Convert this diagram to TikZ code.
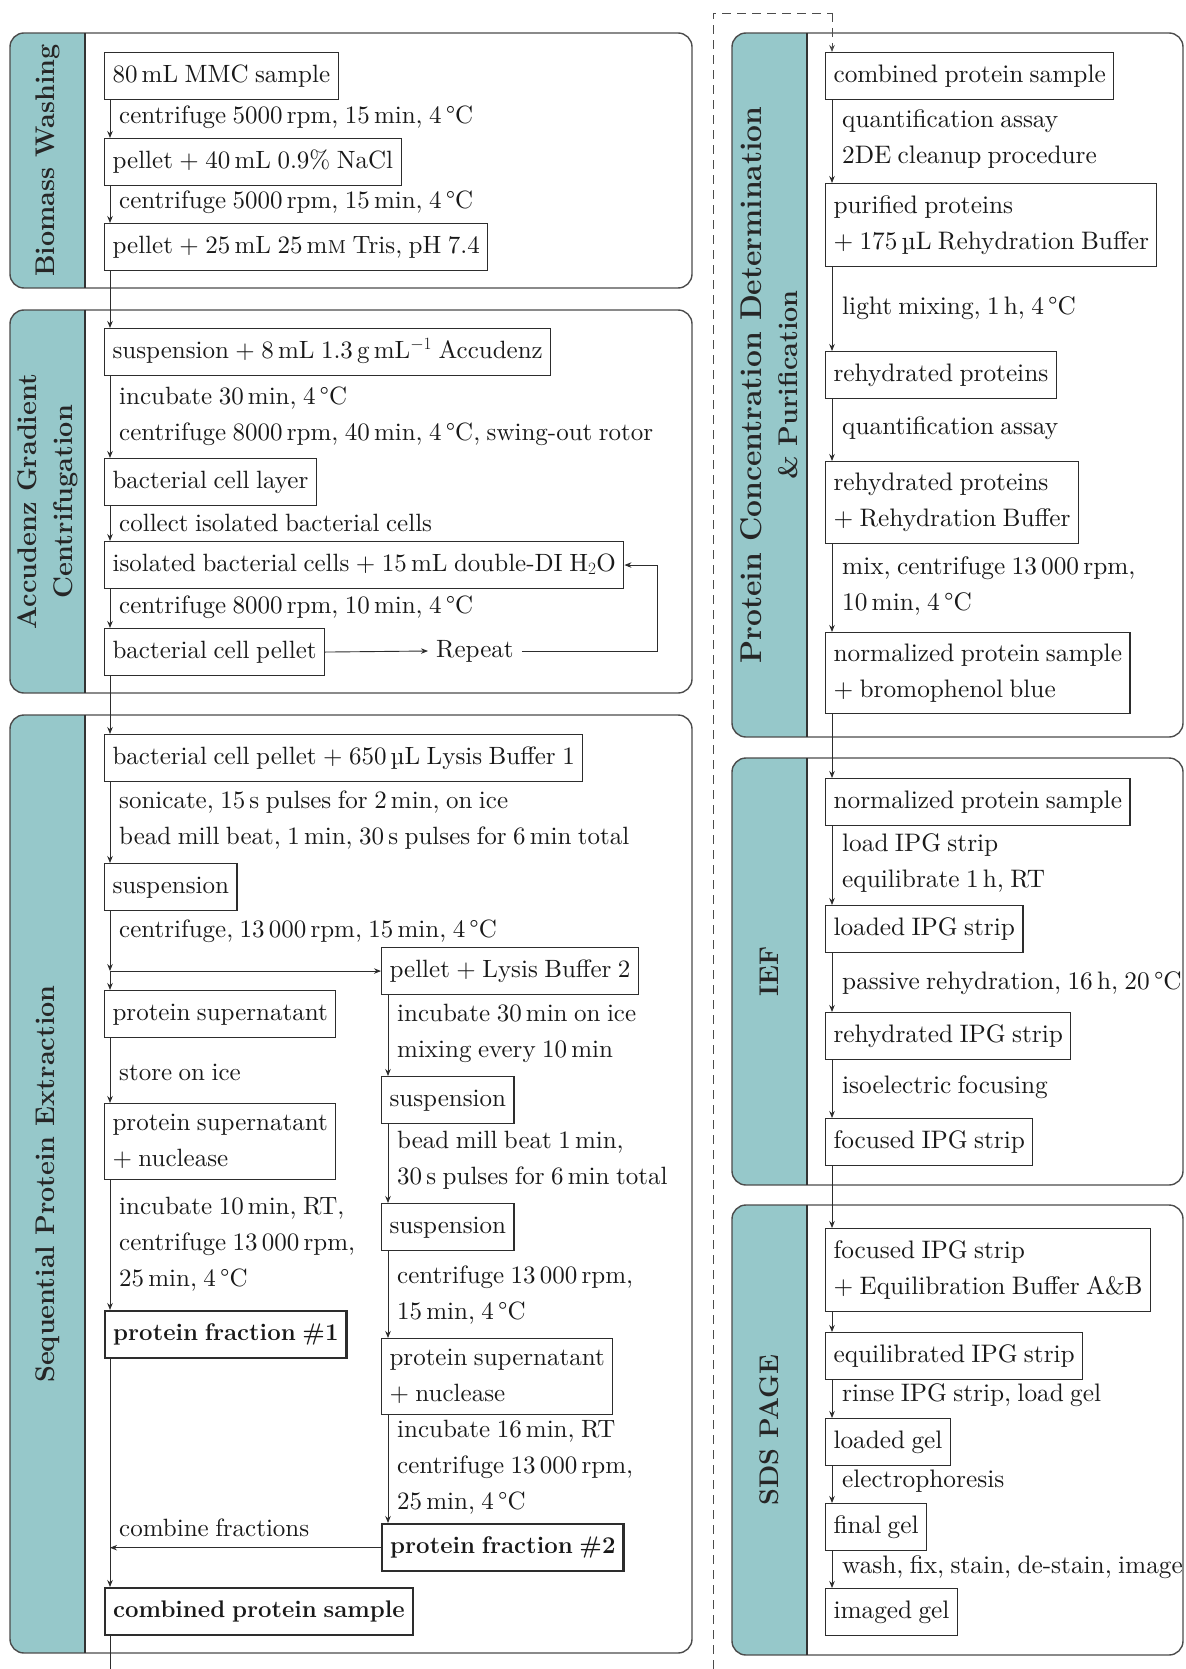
\documentclass[tikz,border=0pt]{standalone}
\usepackage{fontspec}
\setmainfont{lmroman10-regular.otf}[BoldFont=lmroman12-bold.otf, ItalicFont=lmroman10-italic.otf, SmallCapsFont=lmromancaps10-regular.otf]
\usetikzlibrary{arrows.meta}
\definecolor{tealstrip}{RGB}{150,200,202}
\definecolor{lc}{RGB}{45,45,45}
\newcommand{\fsz}{\fontsize{25}{36}\selectfont\spaceskip=0.26em\relax}
\newcommand{\fszr}{\fontsize{25.3}{36}\selectfont\spaceskip=0.25em\relax}
\newcommand{\bsz}{\fontsize{24}{36}\selectfont\spaceskip=0.28em\relax}
\newcommand{\tsz}{\fontsize{27}{36}\selectfont}
\newcommand{\mypanel}[6]{%
  \begin{scope}
    \clip[rounded corners=14pt] (#2,#3) rectangle (#4,#5);
    \fill[tealstrip] (#2,#3) rectangle (#2+75,#5);
  \end{scope}
  \draw[black!70, line width=1.4pt, rounded corners=14pt] (#2,#3) rectangle (#4,#5);
  \draw[black!80, line width=1.4pt] (#2+75,#3) -- (#2+75,#5);
  \node[ttl] (#1) at (#2+37.5, {(#3+#5)/2}) {#6};
}
\begin{document}
\begin{tikzpicture}[x=1pt,y=-1pt,
  every node/.style={font=\fsz, text=black!90},
  bx/.style={draw=lc, line width=1.1pt, anchor=north west, inner xsep=8pt, inner ysep=0pt, align=left},
  one/.style={bx, text height=18pt, text depth=6pt, minimum height=47pt},
  two/.style={bx, minimum height=#1},
  bb/.style={one, line width=2.4pt, font=\bsz\bfseries},
  lbl/.style={anchor=west, inner sep=0pt, align=left},
  arr/.style={draw=lc, line width=0.9pt, -{Stealth[length=7pt,width=5.5pt]}},
  ln/.style={draw=lc, line width=0.9pt},
  dsh/.style={draw=black!70, line width=0.9pt, dash pattern=on 9pt off 6pt},
  ttl/.style={rotate=90, font=\tsz\bfseries, align=center, text=black!85},
]
\fill[white] (0,0) rectangle (1185,1669);
\useasboundingbox (0,0) rectangle (1185,1669);

% ---------------- Panel 1
\mypanel{t1}{10}{33}{692}{288}{Biomass Washing}
\node[one] (b1) at (104,52) {80\,mL MMC sample};
\node[lbl] (l1) at (119,117) {centrifuge 5000\,rpm, 15\,min, 4\,°C};
\node[one] (b2) at (104,138) {pellet + 40\,mL 0.9\% NaCl};
\node[lbl] (l2) at (119,202) {centrifuge 5000\,rpm, 15\,min, 4\,°C};
\node[one] (b3) at (104,223) {pellet + 25\,mL 25\,m\textsc{m} Tris, pH 7.4};

% ---------------- Panel 2
\mypanel{t2}{10}{310}{692}{693}{Accudenz Gradient\\Centrifugation}
\node[one] (c1) at (104,328) {suspension + 8\,mL 1.3\,g\,mL$^{-1}$ Accudenz};
\node[lbl] (l3) at (119,416.5) {incubate 30\,min, 4\,°C\\centrifuge 8000\,rpm, 40\,min, 4\,°C, swing-out rotor};
\node[one] (c2) at (104,458) {bacterial cell layer};
\node[lbl] (l4) at (119,523) {collect isolated bacterial cells};
\node[one] (c3) at (104,541) {isolated bacterial cells + 15\,mL double-DI H$_2$O};
\node[lbl] (l5) at (119,607) {centrifuge 8000\,rpm, 10\,min, 4\,°C};
\node[one] (c4) at (104,628) {bacterial cell pellet};
\node[anchor=west, inner xsep=8pt] (rep) at (428,651) {Repeat};
\coordinate (rx) at (657,0);

% ---------------- Panel 3
\mypanel{t3}{10}{715}{692}{1653}{Sequential Protein Extraction}
\node[one] (e1) at (104,734) {bacterial cell pellet + 650\,µL Lysis Buffer 1};
\node[lbl] (l6) at (119,820.5) {sonicate, 15\,s pulses for 2\,min, on ice\\bead mill beat, 1\,min, 30\,s pulses for 6\,min total};
\node[one] (e2) at (104,863) {suspension};
\node[lbl] (l7) at (119,931) {centrifuge, 13\,000\,rpm, 15\,min, 4\,°C};
\node[one] (e3) at (381,947) {pellet + Lysis Buffer 2};
\node[one] (e4) at (104,990) {protein supernatant};
\node[lbl] (l8) at (397,1033) {incubate 30\,min on ice\\mixing every 10\,min};
\node[lbl] (l9) at (119,1072) {store on ice};
\node[one] (e5) at (381,1076) {suspension};
\node[two=76pt] (e6) at (104,1103) {protein supernatant\\+ nuclease};
\node[lbl] (l10) at (397,1160) {bead mill beat 1\,min,\\30\,s pulses for 6\,min total};
\node[one] (e7) at (381,1203) {suspension};
\node[lbl] (l11) at (119,1244) {incubate 10\,min, RT,\\centrifuge 13\,000\,rpm,\\25\,min, 4\,°C};
\node[lbl] (l12) at (397,1295) {centrifuge 13\,000\,rpm,\\15\,min, 4\,°C};
\node[bb] (e8) at (104,1310) {protein fraction \#1};
\node[two=76pt] (e9) at (381,1338) {protein supernatant\\+ nuclease};
\node[lbl] (l13) at (397,1467) {incubate 16\,min, RT\\centrifuge 13\,000\,rpm,\\25\,min, 4\,°C};
\node[lbl] (l14) at (119,1528) {combine fractions};
\node[bb] (e10) at (381,1523) {protein fraction \#2};
\node[bb] (e11) at (104,1587) {combined protein sample};
\coordinate (br) at ([xshift=6pt]e2.south west |- e3.west);
\coordinate (jn) at ([xshift=6pt]e8.south west |- e10.west);
\coordinate (lend) at (110,1669);

\begin{scope}[every node/.append style={font=\fszr}]
% ---------------- Panel 4
\mypanel{t4}{732}{33}{1183}{737}{\fontsize{30}{36}\selectfont Protein Concentration Determination\\\& Purification}
\node[one] (r1) at (825,52) {combined protein sample};
\node[lbl] (m1) at (842,139.5) {quantification assay\\2DE cleanup procedure};
\node[two=83pt] (r2) at (825,183) {purified proteins\\+ 175\,µL Rehydration Buffer};
\node[lbl] (m2) at (842,308) {light mixing, 1\,h, 4\,°C};
\node[one] (r3) at (825,351) {rehydrated proteins};
\node[lbl] (m3) at (842,428) {quantification assay};
\node[two=82pt] (r4) at (825,461) {rehydrated proteins\\+ Rehydration Buffer};
\node[lbl] (m4) at (842,586.5) {mix, centrifuge 13\,000\,rpm,\\10\,min, 4\,°C};
\node[two=81pt] (r5) at (825,632) {normalized protein sample\\+ bromophenol blue};

% ---------------- Panel 5
\mypanel{t5}{732}{758}{1183}{1185}{IEF}
\node[one] (i1) at (825,778) {normalized protein sample};
\node[lbl] (m5) at (842,863.5) {load IPG strip\\equilibrate 1\,h, RT};
\node[one] (i2) at (825,905) {loaded IPG strip};
\node[lbl] (m6) at (842,983) {passive rehydration, 16\,h, 20\,°C};
\node[one] (i3) at (825,1012) {rehydrated IPG strip};
\node[lbl] (m7) at (842,1087) {isoelectric focusing};
\node[one] (i4) at (825,1118) {focused IPG strip};

% ---------------- Panel 6
\mypanel{t6}{732}{1205}{1183}{1655}{SDS PAGE}
\node[two=83pt] (p1) at (825,1228) {focused IPG strip\\+ Equilibration Buffer A\&B};
\node[one] (p2) at (825,1332) {equilibrated IPG strip};
\node[lbl] (m8) at (842,1395) {rinse IPG strip, load gel};
\node[one] (p3) at (825,1418) {loaded gel};
\node[lbl] (m9) at (842,1481) {electrophoresis};
\node[one] (p4) at (825,1503) {final gel};
\node[lbl] (m10) at (842,1567) {wash, fix, stain, de-stain, image};
\node[one] (p5) at (825,1588) {imaged gel};
\end{scope}

% dashed link between columns
\coordinate (d0) at (713,1669);
\coordinate (d1) at (713,13);
\coordinate (d2) at ([xshift=7pt]r1.north west |- d1);

% ---------------- connectors, left column
\draw[arr] ([xshift=6pt]b1.south west) -- ([xshift=6pt]b2.north west);
\draw[arr] ([xshift=6pt]b2.south west) -- ([xshift=6pt]b3.north west);
\draw[arr] ([xshift=6pt]b3.south west) -- ([xshift=6pt]c1.north west);
\draw[arr] ([xshift=6pt]c1.south west) -- ([xshift=6pt]c2.north west);
\draw[arr] ([xshift=6pt]c2.south west) -- ([xshift=6pt]c3.north west);
\draw[arr] ([xshift=6pt]c3.south west) -- ([xshift=6pt]c4.north west);
\draw[arr] (c4.east) -- (rep.west);
\draw[arr] (rep.east) -- (rep.east -| rx) -- (c3.east -| rx) -- (c3.east);
\draw[arr] ([xshift=6pt]c4.south west) -- ([xshift=6pt]e1.north west);
\draw[arr] ([xshift=6pt]e1.south west) -- ([xshift=6pt]e2.north west);
\draw[arr] ([xshift=6pt]e2.south west) -- (br);
\draw[arr] (br) -- ([xshift=6pt]e4.north west);
\draw[arr] (br) -- (e3.west);
\draw[arr] ([xshift=6pt]e4.south west) -- ([xshift=6pt]e6.north west);
\draw[arr] ([xshift=6pt]e6.south west) -- ([xshift=6pt]e8.north west);
\draw[ln] ([xshift=6pt]e8.south west) -- (jn);
\draw[arr] (e10.west) -- (jn);
\draw[arr] (jn) -- ([xshift=6pt]e11.north west);
\draw[ln] ([xshift=6pt]e11.south west) -- (lend);
\draw[arr] ([xshift=7pt]e3.south west) -- ([xshift=7pt]e5.north west);
\draw[arr] ([xshift=7pt]e5.south west) -- ([xshift=7pt]e7.north west);
\draw[arr] ([xshift=7pt]e7.south west) -- ([xshift=7pt]e9.north west);
\draw[arr] ([xshift=7pt]e9.south west) -- ([xshift=7pt]e10.north west);

% ---------------- connectors, right column
\draw[dsh] (d0) -- (d1) -- (d2);
\draw[dsh, -{Stealth[length=7pt,width=5.5pt]}] (d2) -- ([xshift=7pt]r1.north west);
\draw[arr] ([xshift=7pt]r1.south west) -- ([xshift=7pt]r2.north west);
\draw[arr] ([xshift=7pt]r2.south west) -- ([xshift=7pt]r3.north west);
\draw[arr] ([xshift=7pt]r3.south west) -- ([xshift=7pt]r4.north west);
\draw[arr] ([xshift=7pt]r4.south west) -- ([xshift=7pt]r5.north west);
\draw[arr] ([xshift=7pt]r5.south west) -- ([xshift=7pt]i1.north west);
\draw[arr] ([xshift=7pt]i1.south west) -- ([xshift=7pt]i2.north west);
\draw[arr] ([xshift=7pt]i2.south west) -- ([xshift=7pt]i3.north west);
\draw[arr] ([xshift=7pt]i3.south west) -- ([xshift=7pt]i4.north west);
\draw[arr] ([xshift=7pt]i4.south west) -- ([xshift=7pt]p1.north west);
\draw[arr] ([xshift=7pt]p1.south west) -- ([xshift=7pt]p2.north west);
\draw[arr] ([xshift=7pt]p2.south west) -- ([xshift=7pt]p3.north west);
\draw[arr] ([xshift=7pt]p3.south west) -- ([xshift=7pt]p4.north west);
\draw[arr] ([xshift=7pt]p4.south west) -- ([xshift=7pt]p5.north west);
\end{tikzpicture}
\end{document}
